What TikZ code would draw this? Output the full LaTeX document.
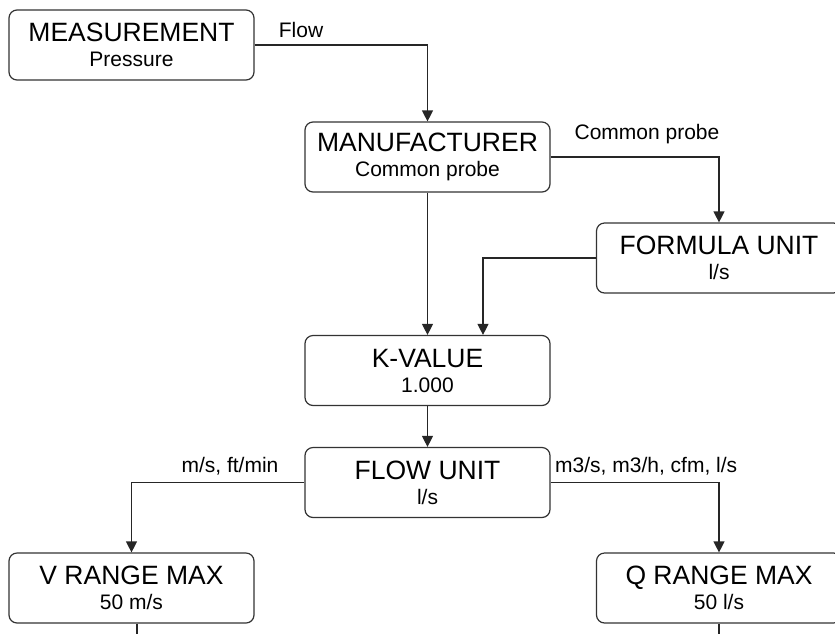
\documentclass[tikz,border=0pt]{standalone}
\usepackage{fontspec}
\setmainfont{Liberation Sans}
\usetikzlibrary{arrows.meta}

\newcommand{\subline}[1]{{\fontsize{21}{25}\selectfont #1}}

\begin{document}
\begin{tikzpicture} [x=1pt, y=-1pt,
				menu/.style={
				% The shape:
				rectangle, rounded corners=8pt,
				% The size:
      				minimum width=245pt, minimum height=70pt,
				% The border:
      				line width=1.2pt,
     				 draw=black!80,
				% Font
				font=\fontsize{26.5}{25}\selectfont, align=center
    				},
				choice/.style={
				% Font
				font=\fontsize{21}{24}\selectfont, inner sep=0pt
    				},
				link/.style={
				line width=1.2pt, draw=black!85,
				-{Triangle[width=11pt,length=11pt]}
    				},
				line/.style={
				line width=1.2pt, draw=black!85
    				},
				]
    \clip (0,0) rectangle (835,633);
    % boxes
    \node [menu] (meas)   at (131.5,45)  {MEASUREMENT\\ \subline{Pressure}};
    \node [menu] (manu)   at (427.5,157) {MANUFACTURER\\ \subline{Common probe}};
    \node [menu] (form)   at (719,258)   {FORMULA UNIT\\ \subline{l/s}};
    \node [menu] (kval)   at (427.5,370.5) {K-VALUE\\ \subline{1.000}};
    \node [menu] (flow)   at (427.5,482.5) {FLOW UNIT\\ \subline{l/s}};
    \node [menu] (vrange) at (131.5,588) {V RANGE MAX\\ \subline{50 m/s}};
    \node [menu] (qrange) at (719,588)   {Q RANGE MAX\\ \subline{50 l/s}};
    % choices
    \node [choice] (flowlbl)   at (301,30)   {Flow};
    \node [choice] (probelbl)  at (647,134)  {Common probe};
    \node [choice] (vunitlbl)  at (230,466)  {m/s, ft/min};
    \node [choice, anchor=west] (qunitlbl) at (555,466) {m3/s, m3/h, cfm, l/s};
    % loose ends
    \coordinate (vend) at ([xshift=5.5pt]vrange.south |- 0,645);
    \coordinate (qend) at (qrange.south |- 0,645);
    % links
    \draw [link] (meas.east) -| (manu.north);
    \draw [link] (manu.east) -| (form.north);
    \draw [link] (manu.south) -- (kval.north);
    \draw [link] (form.west) -| ([xshift=55.5pt]kval.north);
    \draw [link] (kval.south) -- (flow.north);
    \draw [link] (flow.west) -| (vrange.north);
    \draw [link] (flow.east) -| (qrange.north);
    \draw [line] ([xshift=5.5pt]vrange.south) -- (vend);
    \draw [line] (qrange.south) -- (qend);
\end{tikzpicture}
\end{document}
